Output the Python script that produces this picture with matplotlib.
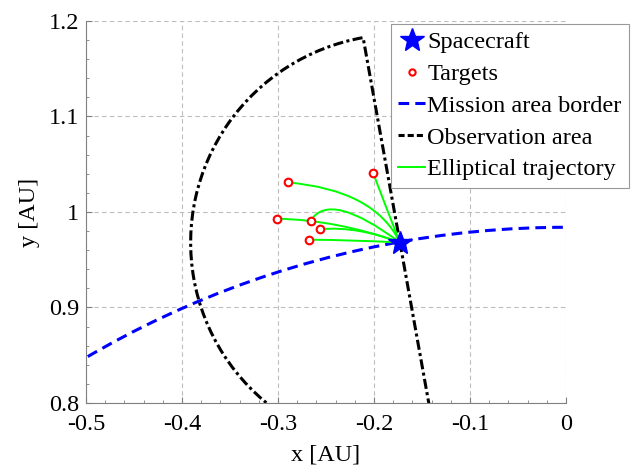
import numpy as np
import matplotlib.pyplot as plt
from matplotlib.lines import Line2D
from matplotlib.patches import Arc, PathPatch
from matplotlib.path import Path
from matplotlib.transforms import Affine2D
from matplotlib.ticker import MultipleLocator

plt.rcParams['font.family'] = ['Liberation Serif', 'DejaVu Serif']
plt.rcParams['font.size'] = 17.5

# spacecraft position [AU]
sc_x, sc_y = -0.173, 0.968
# mission area border: circle around the Sun [AU]
border_r = 0.984
# observation range around the spacecraft [AU]
obs_r = 0.218

# targets [AU]
tgt_x = [-0.201, -0.290, -0.301, -0.266, -0.256, -0.268]
tgt_y = [1.041, 1.031, 0.993, 0.991, 0.982, 0.971]
# control points of the transfer arcs (quadratic bezier) [AU]
ctl_x = [-0.1875, -0.199, -0.2375, -0.246, -0.2167, -0.220]
ctl_y = [1.005, 1.023, 0.9916, 1.023, 0.9853, 0.9707]

blue = '#0000ff'
green = '#00ff00'
border_ls = (0, (3.5, 2))
obs_ls = (0, (3.3, 1.1, 1, 1.1))

fig = plt.figure(figsize=(6.38, 4.75), dpi=100)
ax = fig.add_axes([0.1348, 0.1516, 0.7524, 0.8042])

# mission area border
ax.add_patch(Arc((0, 0), 2 * border_r, 2 * border_r, theta1=80, theta2=125,
                 color=blue, lw=2.2, ls=border_ls, zorder=2))

# observation area: half disc behind the spacecraft, cut by the Sun line
r_sc = np.hypot(sc_x, sc_y)
ux, uy = sc_x / r_sc, sc_y / r_sc
ang = np.degrees(np.arctan2(uy, ux))
arc = Path.arc(ang, ang + 180).transformed(
    Affine2D().scale(obs_r).translate(sc_x, sc_y))
verts = [(sc_x - obs_r * ux, sc_y - obs_r * uy)] + list(arc.vertices)
codes = [Path.MOVETO, Path.LINETO] + list(arc.codes[1:])
ax.add_patch(PathPatch(Path(verts, codes), fill=False, ec='k', lw=2.2,
                       ls=obs_ls, zorder=2))

# transfer arcs
for tx, ty, cx, cy in zip(tgt_x, tgt_y, ctl_x, ctl_y):
    p = Path([(tx, ty), (cx, cy), (sc_x, sc_y)],
             [Path.MOVETO, Path.CURVE3, Path.CURVE3])
    ax.add_patch(PathPatch(p, fill=False, ec=green, lw=1.4, zorder=3))

ax.plot(tgt_x, tgt_y, 'o', ls='none', mec='r', mfc='white', ms=5.5, mew=1.5,
        zorder=4)
ax.plot(sc_x, sc_y, '*', color=blue, ms=18, zorder=5)

ax.set_xlim(-0.5, 0)
ax.set_ylim(0.8, 1.2)
ax.set_xticks([-0.5, -0.4, -0.3, -0.2, -0.1, 0])
ax.set_xticklabels(['-0.5', '-0.4', '-0.3', '-0.2', '-0.1', '0'])
ax.set_yticks([0.8, 0.9, 1.0, 1.1, 1.2])
ax.set_yticklabels(['0.8', '0.9', '1', '1.1', '1.2'])
ax.xaxis.set_minor_locator(MultipleLocator(0.02))
ax.yaxis.set_minor_locator(MultipleLocator(0.02))
ax.tick_params(which='both', direction='in', color='#808080')
ax.tick_params(which='major', length=4)
ax.tick_params(which='minor', length=2.5)
ax.tick_params(axis='x', pad=8)
ax.tick_params(axis='y', pad=5)
for s in ['top', 'right']:
    ax.spines[s].set_visible(False)
for s in ['left', 'bottom']:
    ax.spines[s].set_color('#808080')
    ax.spines[s].set_linewidth(0.8)
ax.grid(True, color='#bdbdbd', lw=0.8, ls=(0, (4, 3)))
ax.set_axisbelow(True)

ax.set_xlabel('x [AU]', labelpad=7)
ax.set_ylabel('y [AU]', labelpad=6)

handles = [
    Line2D([], [], marker='*', color=blue, ms=18, ls='none'),
    Line2D([], [], marker='o', mec='r', mfc='white', ms=4.5, mew=1.5, ls='none'),
    Line2D([], [], color=blue, lw=2.2, ls=border_ls),
    Line2D([], [], color='k', lw=2.2, ls=(0, (2, 1))),
    Line2D([], [], color=green, lw=1.4),
]
labels = ['Spacecraft', 'Targets', 'Mission area border', 'Observation area',
          'Elliptical trajectory']
leg = ax.legend(handles, labels, loc='upper left',
                bbox_to_anchor=(391 / 638, 1 - 24 / 475),
                bbox_transform=fig.transFigure, borderaxespad=0,
                fancybox=False, framealpha=1, edgecolor='#999999',
                handlelength=1.1, handletextpad=0.1, labelspacing=0.4,
                borderpad=0.3)
leg.get_frame().set_linewidth(0.8)

fig.savefig('out.png', dpi=100)
